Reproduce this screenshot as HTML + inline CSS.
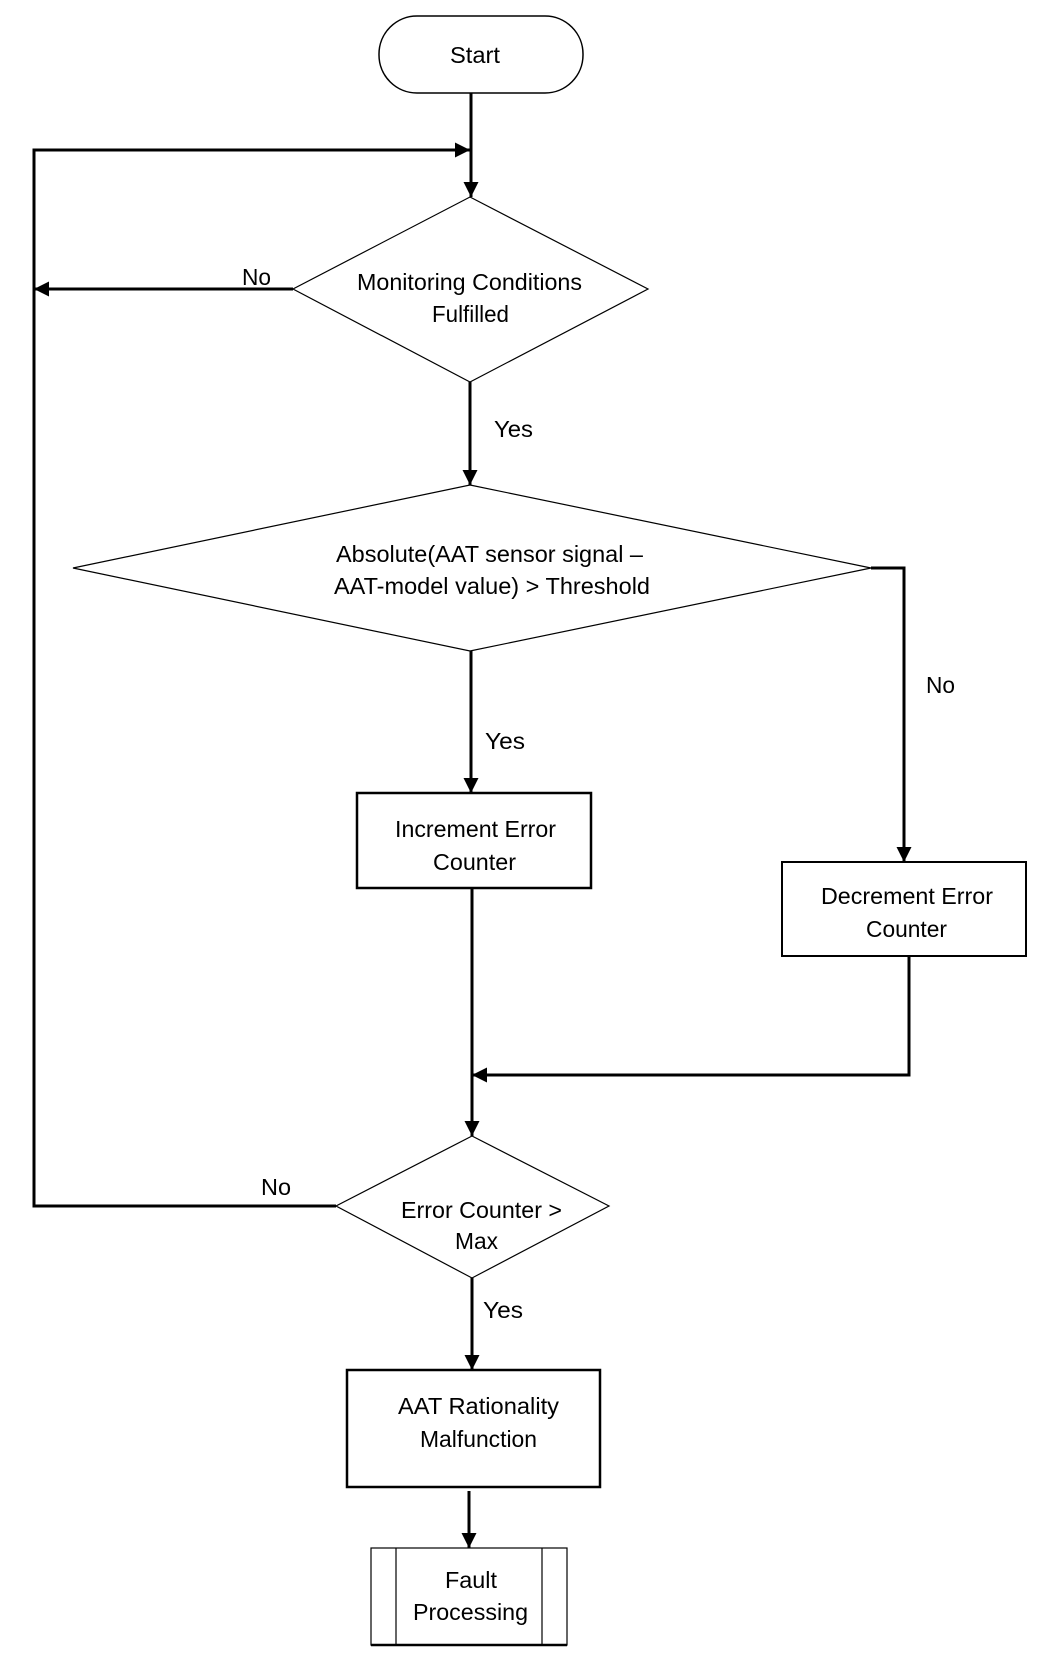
<!DOCTYPE html>
<html><head><meta charset="utf-8"><style>
html,body{margin:0;padding:0;background:#fff;}
svg{display:block;}
text{font-family:"Liberation Sans",Arial,sans-serif;font-size:23px;fill:#000;}
</style></head><body>
<svg width="1056" height="1672" viewBox="0 0 1056 1672" xmlns="http://www.w3.org/2000/svg">
<defs>
<marker id="a" viewBox="0 0 10 10" refX="10" refY="5" markerWidth="5" markerHeight="5" orient="auto" markerUnits="strokeWidth"><path d="M0,0 L10,5 L0,10 z" fill="#000"/></marker>
</defs>
<g fill="none" stroke="#000">
<!-- start -->
<rect x="379" y="16" width="204" height="77" rx="38" ry="38" stroke-width="1.5"/>
<line x1="471" y1="93" x2="471" y2="197" stroke-width="3" marker-end="url(#a)"/>
<!-- loop -->
<polyline points="293,289 34,289" stroke-width="3" marker-end="url(#a)"/>
<polyline points="336,1206 34,1206 34,150 470,150" stroke-width="3" marker-end="url(#a)"/>
<!-- diamond1 -->
<polygon points="470,197 648,289 470,382 293,289" stroke-width="1.2"/>
<line x1="470" y1="382" x2="470" y2="485" stroke-width="3" marker-end="url(#a)"/>
<!-- diamond2 -->
<polygon points="470,485 871,568 470,651 73,568" stroke-width="1.2"/>
<line x1="471" y1="651" x2="471" y2="793" stroke-width="3" marker-end="url(#a)"/>
<polyline points="871,568 904,568 904,862" stroke-width="3" marker-end="url(#a)"/>
<!-- boxes -->
<rect x="357" y="793" width="234" height="95" stroke-width="2.5"/>
<rect x="782" y="862" width="244" height="94" stroke-width="2"/>
<line x1="472" y1="888" x2="472" y2="1136" stroke-width="3" marker-end="url(#a)"/>
<polyline points="909,956 909,1075 472,1075" stroke-width="3" marker-end="url(#a)"/>
<!-- diamond3 -->
<polygon points="472,1136 609,1206 472,1278 336,1206" stroke-width="1.2"/>
<line x1="472" y1="1278" x2="472" y2="1370" stroke-width="3" marker-end="url(#a)"/>
<rect x="347" y="1370" width="253" height="117" stroke-width="2.5"/>
<line x1="469" y1="1491" x2="469" y2="1548" stroke-width="3" marker-end="url(#a)"/>
<!-- fault -->
<rect x="371" y="1548" width="196" height="97" stroke-width="1.2"/>
<line x1="371" y1="1645" x2="567" y2="1645" stroke-width="2.5"/>
<line x1="396" y1="1548" x2="396" y2="1645" stroke-width="1.2"/>
<line x1="542" y1="1548" x2="542" y2="1645" stroke-width="1.2"/>
</g>
<text x="450" y="63" textLength="50" lengthAdjust="spacingAndGlyphs">Start</text>
<text x="357" y="290" textLength="225" lengthAdjust="spacingAndGlyphs">Monitoring Conditions</text>
<text x="432" y="322" textLength="77" lengthAdjust="spacingAndGlyphs">Fulfilled</text>
<text x="242" y="285" textLength="29" lengthAdjust="spacingAndGlyphs">No</text>
<text x="494" y="437" textLength="39" lengthAdjust="spacingAndGlyphs">Yes</text>
<text x="336" y="562" textLength="307" lengthAdjust="spacingAndGlyphs">Absolute(AAT sensor signal –</text>
<text x="334" y="594" textLength="316" lengthAdjust="spacingAndGlyphs">AAT-model value) &gt; Threshold</text>
<text x="926" y="693" textLength="29" lengthAdjust="spacingAndGlyphs">No</text>
<text x="485" y="749" textLength="40" lengthAdjust="spacingAndGlyphs">Yes</text>
<text x="395" y="837" textLength="161" lengthAdjust="spacingAndGlyphs">Increment Error</text>
<text x="433" y="870" textLength="83" lengthAdjust="spacingAndGlyphs">Counter</text>
<text x="821" y="904" textLength="172" lengthAdjust="spacingAndGlyphs">Decrement Error</text>
<text x="866" y="937" textLength="81" lengthAdjust="spacingAndGlyphs">Counter</text>
<text x="261" y="1195" textLength="30" lengthAdjust="spacingAndGlyphs">No</text>
<text x="401" y="1218" textLength="161" lengthAdjust="spacingAndGlyphs">Error Counter &gt;</text>
<text x="455" y="1249" textLength="43" lengthAdjust="spacingAndGlyphs">Max</text>
<text x="483" y="1318" textLength="40" lengthAdjust="spacingAndGlyphs">Yes</text>
<text x="398" y="1414" textLength="161" lengthAdjust="spacingAndGlyphs">AAT Rationality</text>
<text x="420" y="1447" textLength="117" lengthAdjust="spacingAndGlyphs">Malfunction</text>
<text x="445" y="1588" textLength="52" lengthAdjust="spacingAndGlyphs">Fault</text>
<text x="413" y="1620" textLength="115" lengthAdjust="spacingAndGlyphs">Processing</text>
</svg>
</body></html>
